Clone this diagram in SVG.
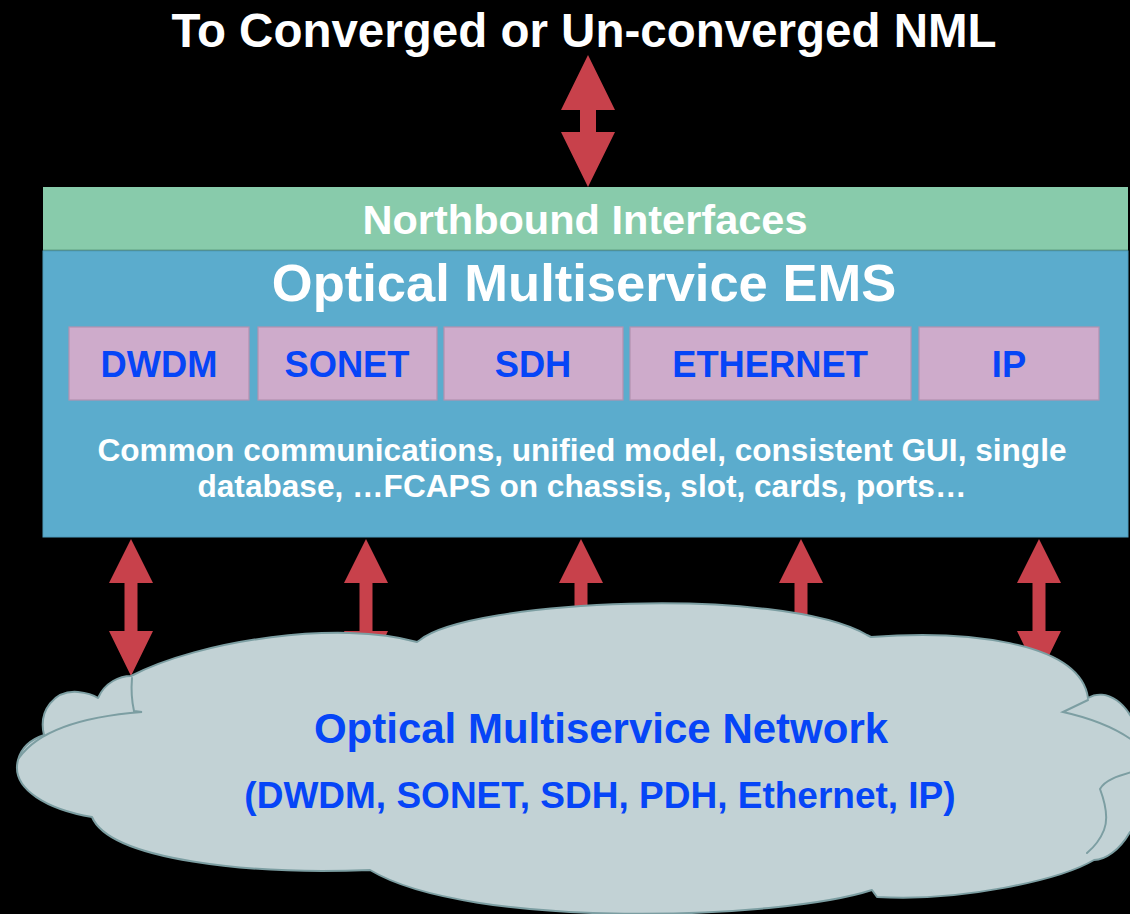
<svg xmlns="http://www.w3.org/2000/svg" width="1130" height="914" viewBox="0 0 1130 914">
  <style>
    .t { font-family: "Liberation Sans", Arial, Helvetica, sans-serif; font-weight: bold; text-anchor: middle; }
    .white { fill: #ffffff; }
    .blue { fill: #0645F7; }
    .arrow { fill: #C8414B; }
    .module { fill: #CEABCB; stroke: #B292B0; stroke-width: 1.2; }
    .cloud { fill: #C2D2D5; stroke: #7C9EA2; stroke-width: 2; stroke-linejoin: round; }
    .cloud-inner { fill: none; stroke: #7C9EA2; stroke-width: 2; stroke-linecap: round; }
  </style>
  <defs>
    <!-- double-headed block arrow, top tip at (0,0) -->
    <path id="dblArrow" d="M0,0 L22,44 L6.5,44 L6.5,92 L22,92 L0,137 L-22,92 L-6.5,92 L-6.5,44 L-22,44 Z"/>
  </defs>

  <rect x="0" y="0" width="1130" height="914" fill="#000000"/>

  <g id="title">
    <text class="t white" x="584" y="47" font-size="47.5">To Converged or Un-converged NML</text>
  </g>

  <g id="connectors">
    <path class="arrow" d="M588,55 L615,110 L596,110 L596,132 L615,132 L588,187 L561,132 L580,132 L580,110 L561,110 Z"/>
    <use href="#dblArrow" class="arrow" x="131" y="539"/>
    <use href="#dblArrow" class="arrow" x="366" y="539"/>
    <use href="#dblArrow" class="arrow" x="581" y="539"/>
    <use href="#dblArrow" class="arrow" x="801" y="539"/>
    <use href="#dblArrow" class="arrow" x="1039" y="539"/>
  </g>

  <g id="northbound">
    <rect x="43" y="187" width="1085" height="63" fill="#88CBAB"/>
    <line x1="43" y1="250" x2="1128" y2="250" stroke="#6EAF90" stroke-width="1.5"/>
    <text class="t white" x="585" y="234" font-size="41.5">Northbound Interfaces</text>
  </g>

  <g id="ems">
    <rect x="43" y="251" width="1085" height="286" fill="#5BACCD" stroke="#4F9DBE" stroke-width="1"/>
    <text class="t white" x="584" y="301" font-size="52.5">Optical Multiservice EMS</text>
    <text class="t white" x="582" y="461" font-size="31.6">Common communications, unified model, consistent GUI, single</text>
    <text class="t white" x="582" y="497" font-size="31.6">database, …FCAPS on chassis, slot, cards, ports…</text>
  </g>

  <g id="mod-dwdm">
    <rect class="module" x="69" y="327" width="180" height="73"/>
    <text class="t blue" x="159" y="377" font-size="36.3">DWDM</text>
  </g>
  <g id="mod-sonet">
    <rect class="module" x="258" y="327" width="179" height="73"/>
    <text class="t blue" x="347" y="377" font-size="36.3">SONET</text>
  </g>
  <g id="mod-sdh">
    <rect class="module" x="444" y="327" width="179" height="73"/>
    <text class="t blue" x="533" y="377" font-size="36.3">SDH</text>
  </g>
  <g id="mod-ethernet">
    <rect class="module" x="630" y="327" width="281" height="73"/>
    <text class="t blue" x="770" y="377" font-size="36.3">ETHERNET</text>
  </g>
  <g id="mod-ip">
    <rect class="module" x="919" y="327" width="180" height="73"/>
    <text class="t blue" x="1009" y="377" font-size="36.3">IP</text>
  </g>

  <g id="network">
    <path class="cloud" d="M131,676 C200,640 340,620 417,642 L420,640 C470,600 780,585 867,635 L871,637 C960,630 1080,640 1088,698 C1105,688 1130,700 1140,740 L1145,830 L1130,832 C1120,850 1105,860 1094,860 C1060,880 960,902 877,897 L872,890 C780,920 470,930 370,870 C250,875 110,860 92,817 C50,810 10,790 18,760 C22,745 35,738 44,735 C38,710 55,690 78,692 C88,693 95,696 98,698 C105,682 120,676 131,676 Z"/>
    <path class="cloud-inner" d="M132,678 C131,690 132,702 134,711 L142,712 C90,716 40,728 19,758"/>
    <path class="cloud-inner" d="M1088,700 L1063,712 C1090,718 1115,728 1132,740"/>
    <path class="cloud-inner" d="M1132,772 C1118,776 1105,780 1100,789 C1106,805 1108,820 1104,830 C1100,840 1093,848 1087,853"/>
    <text class="t blue" x="601" y="743" font-size="42">Optical Multiservice Network</text>
    <text class="t blue" x="600" y="808" font-size="37">(DWDM, SONET, SDH, PDH, Ethernet, IP)</text>
  </g>
</svg>
